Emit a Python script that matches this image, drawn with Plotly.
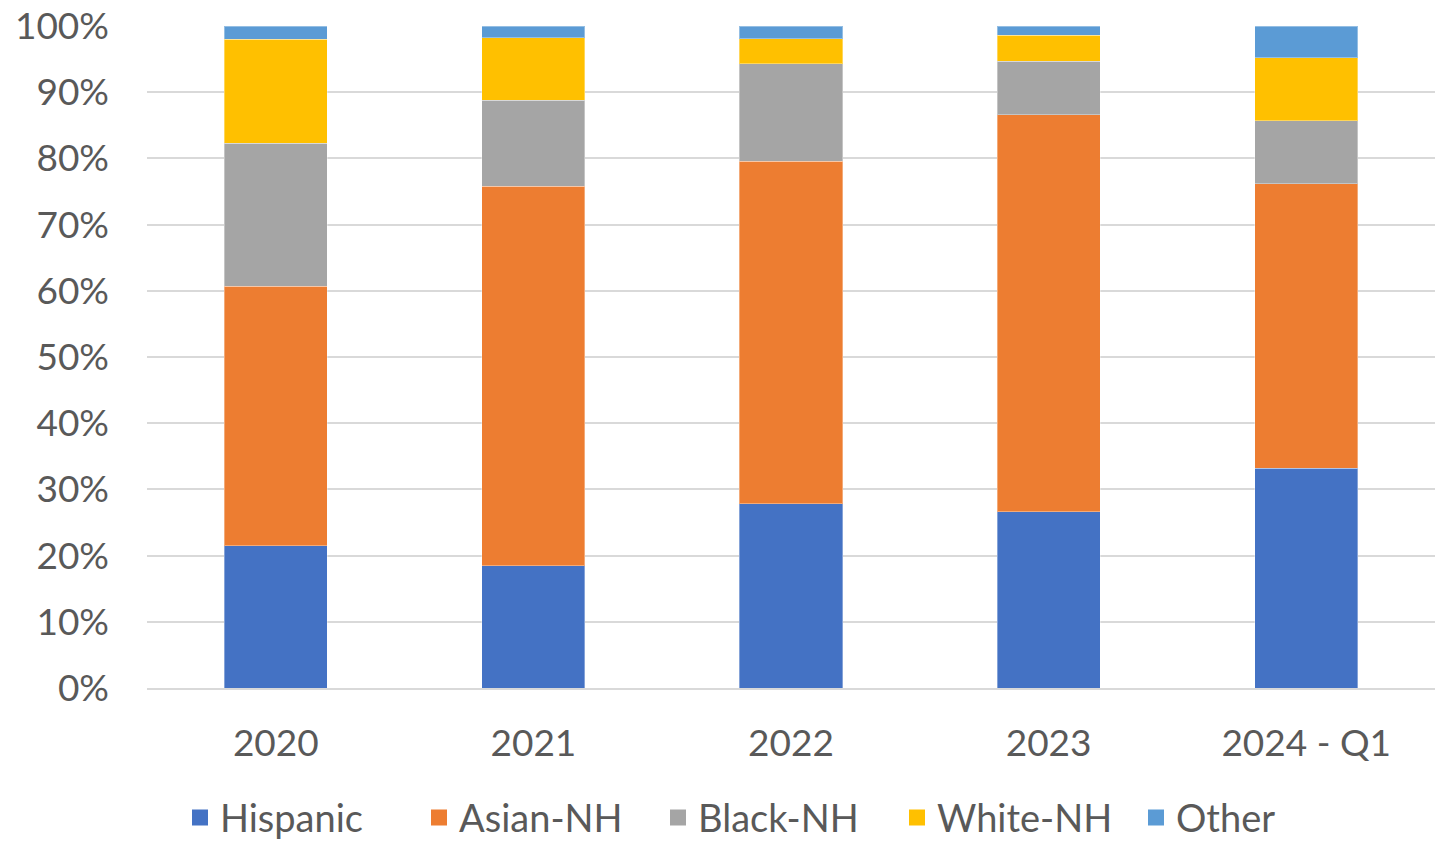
import plotly.graph_objects as go

categories = ["2020", "2021", "2022", "2023", "2024 - Q1"]
hispanic = [21.5, 18.5, 27.8, 26.6, 33.2]
asian_nh = [39.2, 57.3, 51.8, 60.0, 43.0]
black_nh = [21.6, 13.0, 14.7, 8.1, 9.5]
white_nh = [15.7, 9.4, 3.8, 3.9, 9.5]
other = [2.0, 1.8, 1.9, 1.4, 4.8]

series_names = ["Hispanic", "Asian-NH", "Black-NH", "White-NH", "Other"]
series_values = [hispanic, asian_nh, black_nh, white_nh, other]
colors = ["#4472C4", "#ED7D31", "#A5A5A5", "#FFC000", "#5B9BD5"]

fig = go.Figure()
for name, vals, col in zip(series_names, series_values, colors):
    fig.add_trace(go.Bar(
        x=categories, y=vals, name=name, legendgroup=name, showlegend=False,
        marker=dict(color=col, line=dict(color="rgba(255,255,255,0.35)", width=1)),
        width=0.4,
    ))
# legend entries with larger square swatches
for name, col in zip(series_names, colors):
    fig.add_trace(go.Scatter(
        x=[None], y=[None], mode="markers", name=name, legendgroup=name,
        marker=dict(symbol="square", size=16, color=col),
    ))

font_family = "Lato, 'Open Sans', sans-serif"
fig.update_layout(
    barmode="stack",
    width=1435, height=844,
    margin=dict(l=147, r=0, t=26, b=156, autoexpand=False),
    plot_bgcolor="white", paper_bgcolor="white",
    font=dict(family=font_family, size=37, color="#595959"),
    showlegend=True,
    legend=dict(orientation="h", x=(192 - 147 - 12) / 1288, xref="paper", xanchor="left",
                y=-0.196, yanchor="middle", font=dict(size=38, color="#595959"),
                traceorder="normal", itemsizing="trace", itemwidth=30,
                entrywidth=194, entrywidthmode="pixels"),
)
fig.update_yaxes(range=[0, 100], dtick=10, ticksuffix="%", showgrid=True,
                 gridcolor="#D9D9D9", gridwidth=1.5, zeroline=False,
                 showline=False, ticks="", ticklabelstandoff=37, automargin=False)
fig.update_xaxes(showgrid=False, showline=True, linecolor="#D9D9D9", linewidth=1.5,
                 ticks="", ticklabelstandoff=22, tickangle=0, automargin=False)

fig.write_html("out.html", config={"displayModeBar": False},
               post_script="document.body.style.margin='0';document.body.style.overflow='hidden';")
